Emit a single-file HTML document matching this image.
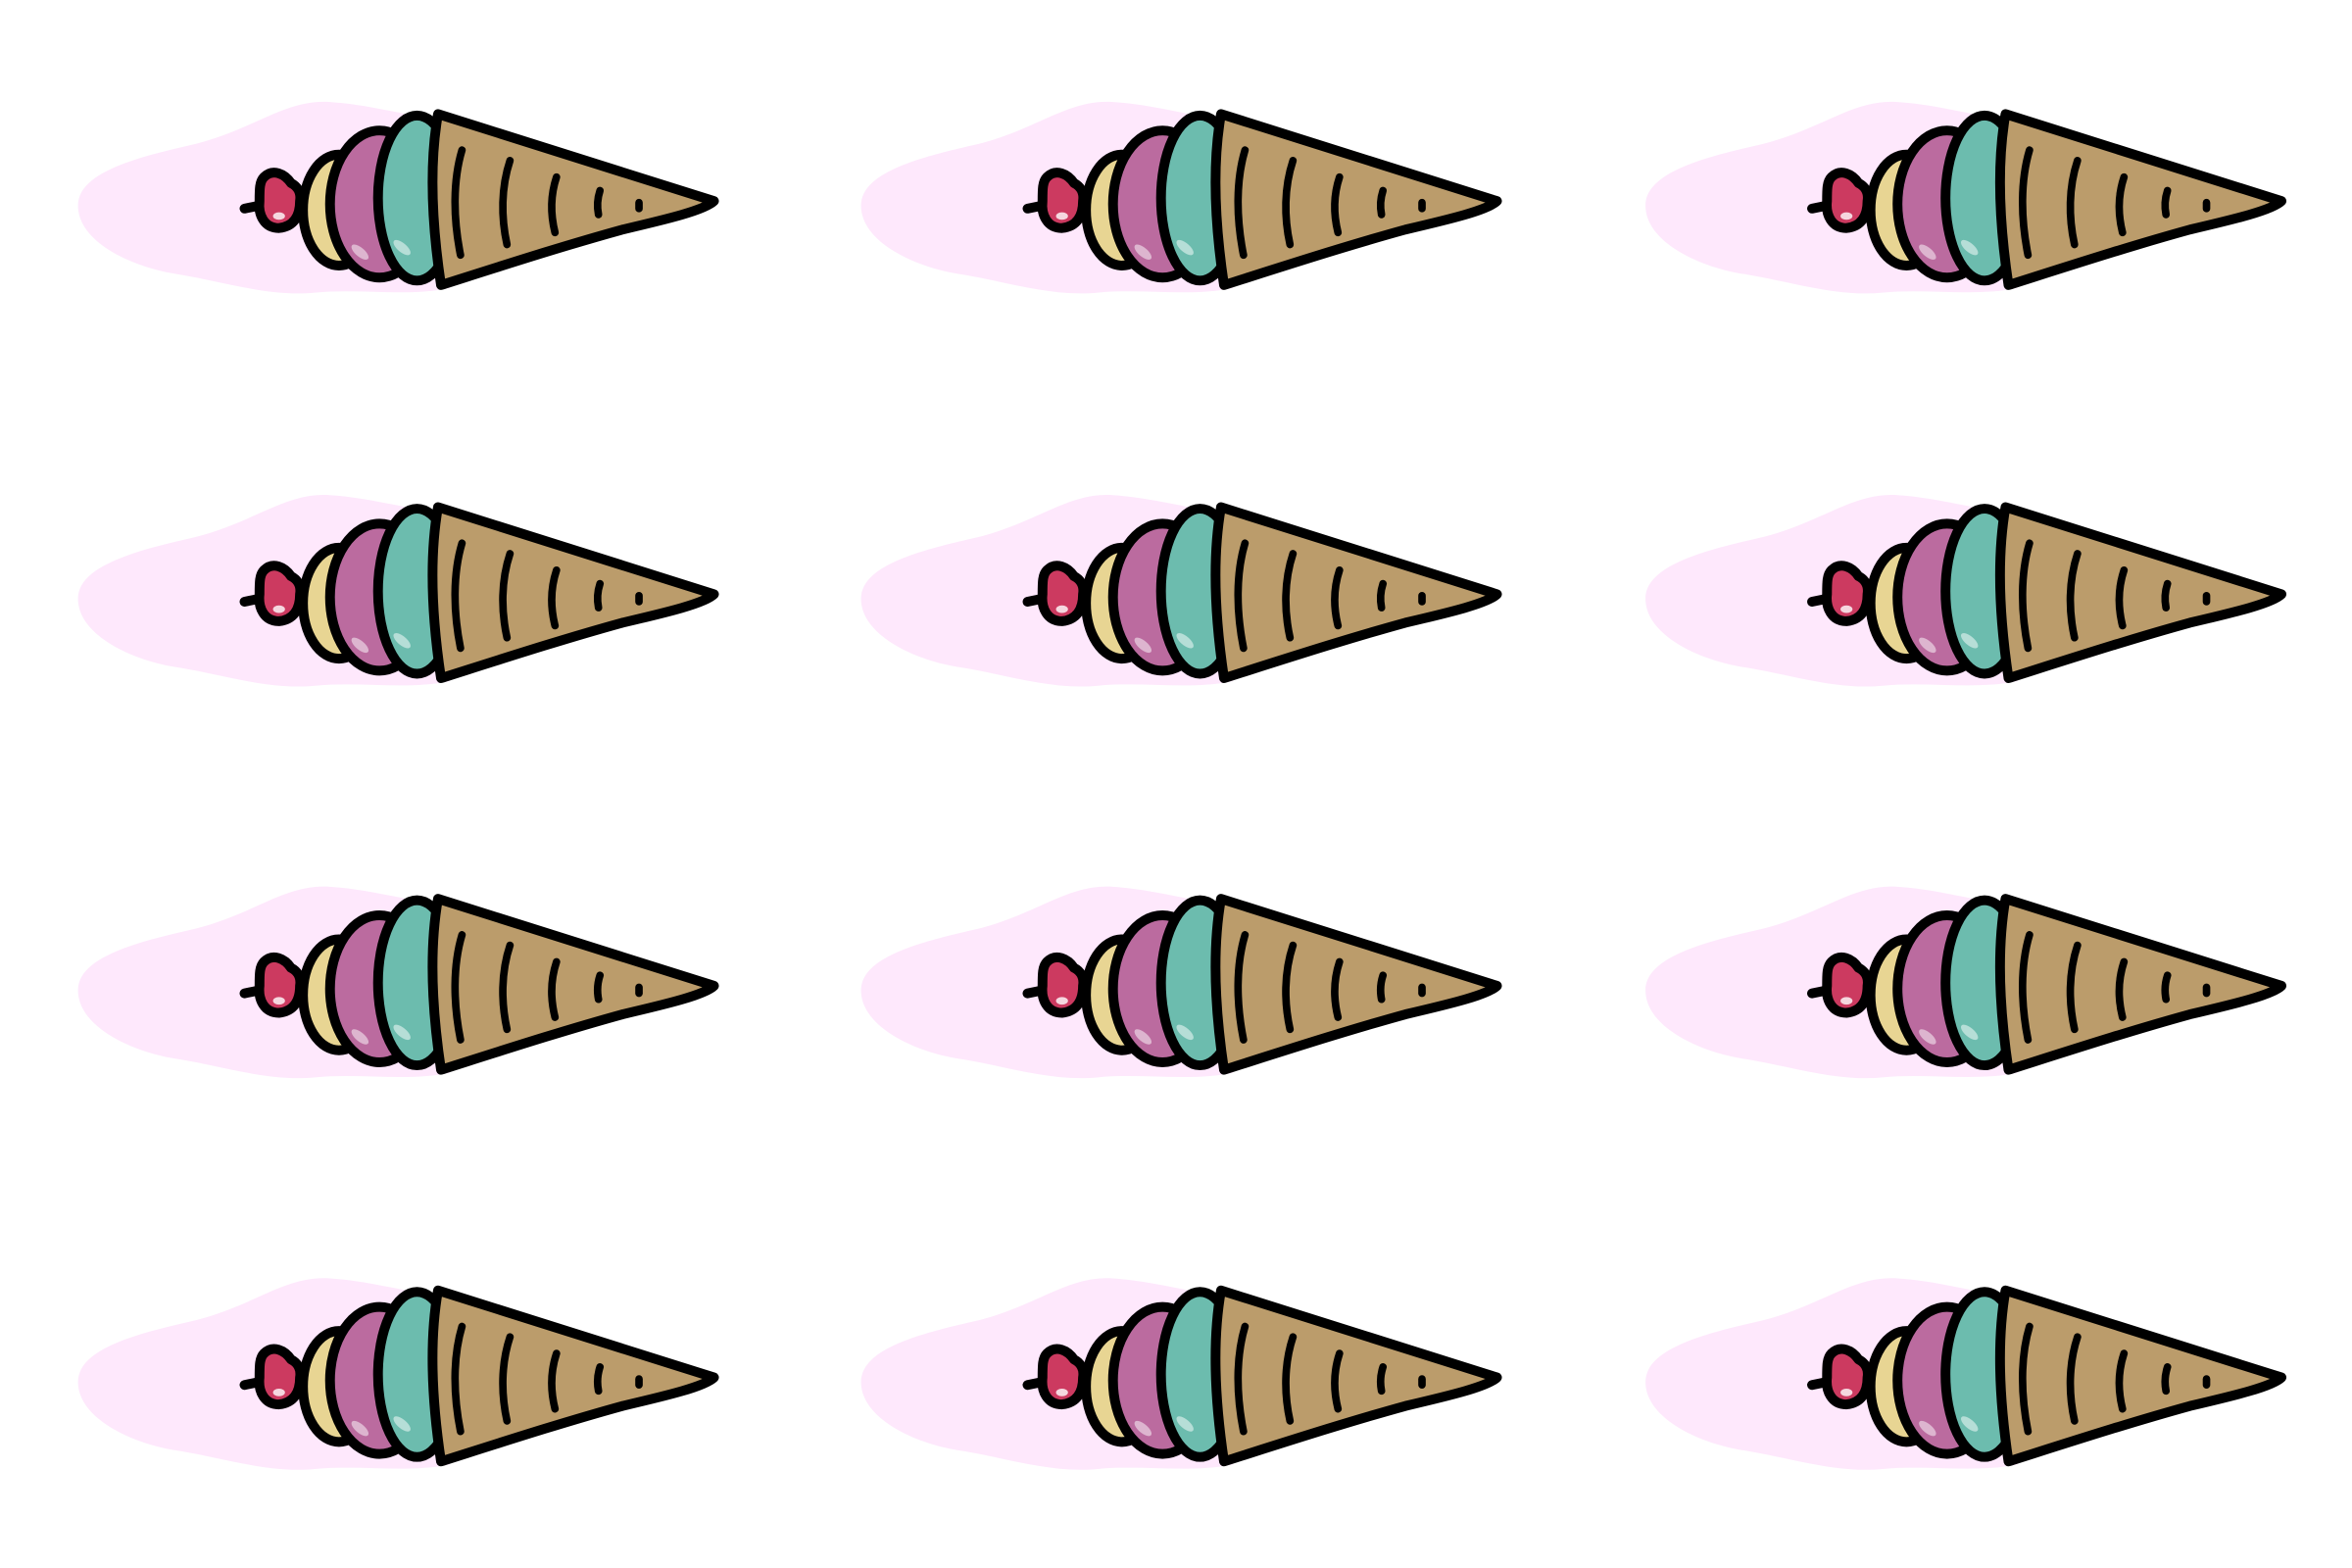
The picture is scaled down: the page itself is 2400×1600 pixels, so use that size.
<!DOCTYPE html>
<html><head><meta charset="utf-8"><style>
html,body{margin:0;padding:0;background:#fff;}
svg{display:block;}
</style></head><body>
<svg width="2400" height="1600" viewBox="0 0 1568 1045" preserveAspectRatio="none" xmlns="http://www.w3.org/2000/svg">
<defs>
<symbol id="cone" overflow="visible">
  <path d="M52,137 C52,114 95,104 130,96 C170,86 190,66 220,68 C250,70 272,78 300,80 L300,192 C270,198 240,192 210,195 C180,198 150,188 120,183 C90,179 52,162 52,137Z" fill="#fee8fc"/>
  <g stroke="#000" stroke-width="6.5" stroke-linejoin="round" stroke-linecap="round">
    <line x1="163" y1="139" x2="173" y2="137"/>
    <path d="M176,118 C182,112 190,116 194,122 C198,124 201,128 200,134 C200,144 196,151 186,152 C176,152 172,143 173,134 C173,126 173,121 176,118Z" fill="#cc3a60"/>
    <ellipse cx="226" cy="140" rx="24" ry="37" fill="#e8d593"/>
    <ellipse cx="253" cy="136" rx="33" ry="49" fill="#bb6b9f"/>
    <ellipse cx="278" cy="132" rx="26" ry="55" fill="#6cbcae"/>
    <path d="M292,76 L476,134 C470,140 445,146 415,153 C375,164 335,177 294,190 C288,150 286,110 292,76Z" fill="#bb9c6b"/>
    <g fill="none" stroke-width="5">
      <path d="M308,100 C302,120 302,145 307,170"/>
      <path d="M340,107 C334,125 334,145 338,163"/>
      <path d="M371,118 C367,130 367,143 370,155"/>
      <path d="M400,127 C398,133 398,138 399,143"/>
      <path d="M426,135 L426,139"/>
    </g>
    <ellipse cx="186" cy="144" rx="4" ry="2.5" fill="#fff" stroke="none" opacity="0.8"/>
    <ellipse cx="240" cy="168" rx="7" ry="3" fill="#fff" stroke="none" opacity="0.5" transform="rotate(40 240 168)"/>
    <ellipse cx="268" cy="165" rx="7" ry="3" fill="#fff" stroke="none" opacity="0.5" transform="rotate(40 268 165)"/>
  </g>
</symbol>
</defs>
<g>
<use href="#cone" x="0" y="0"/>
<use href="#cone" x="522" y="0"/>
<use href="#cone" x="1045" y="0"/>
</g>
<g>
<use href="#cone" x="0" y="262"/>
<use href="#cone" x="522" y="262"/>
<use href="#cone" x="1045" y="262"/>
</g>
<g>
<use href="#cone" x="0" y="523"/>
<use href="#cone" x="522" y="523"/>
<use href="#cone" x="1045" y="523"/>
</g>
<g>
<use href="#cone" x="0" y="784"/>
<use href="#cone" x="522" y="784"/>
<use href="#cone" x="1045" y="784"/>
</g>
</svg>
</body></html>
